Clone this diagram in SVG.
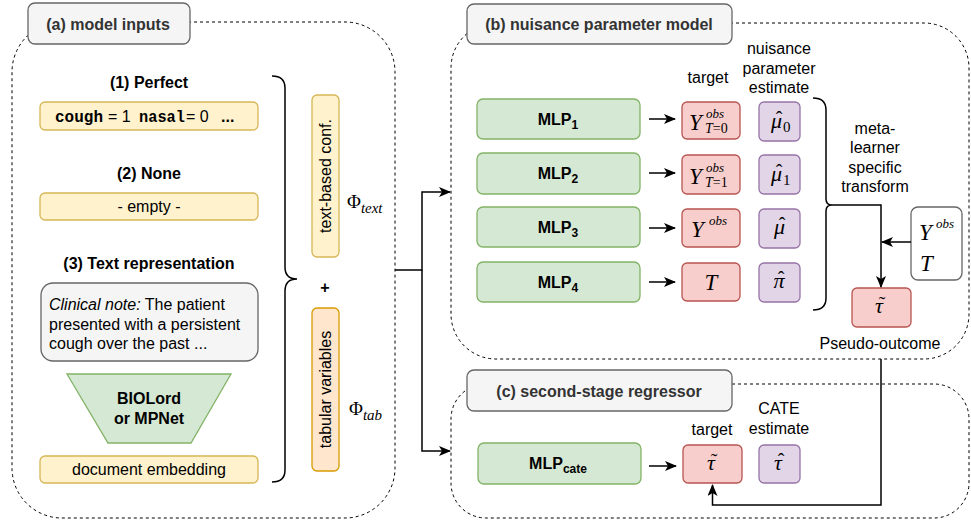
<svg xmlns="http://www.w3.org/2000/svg" width="971" height="520" viewBox="0 0 971 520">
<defs>
<marker id="arr" markerWidth="12" markerHeight="10" refX="11" refY="5" orient="auto" markerUnits="userSpaceOnUse">
<path d="M0,0 L12,5 L0,10 L3,5 Z" fill="#000"/>
</marker>
<style>
.panel{fill:none;stroke:#000;stroke-width:1;stroke-dasharray:3 3}
.title{fill:#f5f5f5;stroke:#666;stroke-width:1.3}
.tt{font-family:"Liberation Sans",Arial,sans-serif;font-weight:bold;font-size:16px;fill:#333;text-anchor:middle}
.t{font-family:"Liberation Sans",Arial,sans-serif;font-size:16px;fill:#000;text-anchor:middle}
.tl{font-family:"Liberation Sans",Arial,sans-serif;font-size:16px;fill:#000}
.b{font-weight:bold}
.mono{font-family:"Liberation Mono","Courier New",monospace;font-weight:bold}
.yel{fill:#fff2cc;stroke:#d6b656;stroke-width:1.3}
.org{fill:#ffe6cc;stroke:#d79b00;stroke-width:1.3}
.grn{fill:#d5e8d4;stroke:#82b366;stroke-width:1.3}
.red{fill:#f8cecc;stroke:#b85450;stroke-width:1.3}
.pur{fill:#e1d5e7;stroke:#9673a6;stroke-width:1.3}
.gry{fill:#f5f5f5;stroke:#666;stroke-width:1.3}
.wht{fill:#fff;stroke:#666;stroke-width:1.3}
.m{font-family:"Liberation Serif","DejaVu Serif",serif;font-style:italic;fill:#000}
.mu{font-family:"Liberation Serif","DejaVu Serif",serif;font-style:normal;fill:#000}
.acc{font-style:normal;font-size:20px;text-anchor:middle}
.ln{fill:none;stroke:#000;stroke-width:1.5}
.br{fill:none;stroke:#000;stroke-width:1.5}
</style>
</defs>
<rect width="971" height="520" fill="#fff"/>

<g id="panels">
<rect class="panel" x="12" y="22" width="383" height="496" rx="50"/>
<rect class="panel" x="451" y="23" width="518" height="336" rx="45"/>
<rect class="panel" x="451" y="384" width="518" height="134" rx="35"/>
</g>

<g id="title-a"><rect class="title" x="28" y="3" width="162" height="41" rx="7"/><text class="tt" x="108" y="30">(a) model inputs</text></g>
<g id="title-b"><rect class="title" x="467" y="4" width="265" height="40" rx="7"/><text class="tt" x="599" y="30">(b) nuisance parameter model</text></g>
<g id="title-c"><rect class="title" x="467" y="370" width="265" height="41" rx="7"/><text class="tt" x="599" y="397">(c) second-stage regressor</text></g>

<g id="perfect">
<text class="t b" x="149" y="88">(1) Perfect</text>
<rect class="yel" x="40" y="102" width="218" height="28" rx="5"/>
<text class="tl" y="122"><tspan class="mono" font-size="16" x="55">cough</tspan><tspan x="108">= 1</tspan><tspan class="mono" font-size="16" x="139" textLength="46" lengthAdjust="spacingAndGlyphs">nasal</tspan><tspan x="186">= 0</tspan><tspan class="b" x="221">...</tspan></text>
</g>
<g id="none">
<text class="t b" x="149" y="179">(2) None</text>
<rect class="yel" x="40" y="193" width="218" height="27" rx="5"/>
<text class="t" x="149" y="212">- empty -</text>
</g>
<g id="textrep">
<text class="t b" x="149" y="269">(3) Text representation</text>
</g>
<g id="note">
<rect class="gry" x="41" y="283" width="217" height="78" rx="12"/>
<text class="tl" x="49" y="310"><tspan font-style="italic">Clinical note:</tspan> The patient</text>
<text class="tl" x="49" y="329.5">presented with a persistent</text>
<text class="tl" x="49" y="349">cough over the past ...</text>
</g>
<g id="encoder">
<path class="grn" d="M67,374 L231,374 L191,443 L108,443 Z"/>
<text class="t b" x="149" y="404">BIOLord</text>
<text class="t b" x="149" y="424">or MPNet</text>
</g>
<g id="docemb">
<rect class="yel" x="40" y="456" width="218" height="27" rx="5"/>
<text class="t" x="149" y="475">document embedding</text>
</g>
<g id="brace-a">
<path class="br" d="M272,76 Q285,76 285,88 L285,267 Q285,279 297,279 Q285,279 285,291 L285,470 Q285,482 272,482"/>
</g>
<g id="textconf">
<rect class="yel" x="312" y="95" width="27" height="162" rx="5"/>
<text class="t" transform="translate(331,176) rotate(-90)">text-based conf.</text>
</g>
<g id="plus"><text class="t b" x="325" y="293">+</text></g>
<g id="tabular">
<rect class="org" x="312" y="308" width="27" height="163" rx="5"/>
<text class="t" transform="translate(331,389.5) rotate(-90)">tabular variables</text>
</g>
<g id="phi-text"><text class="mu" font-size="19" x="347" y="208">Φ<tspan class="m" font-size="15" dy="5">text</tspan></text></g>
<g id="phi-tab"><text class="mu" font-size="19" x="349" y="415">Φ<tspan class="m" font-size="15" dy="5">tab</tspan></text></g>

<g id="labels-b">
<text class="t" x="708" y="83">target</text>
<text class="t" x="779" y="54">nuisance</text>
<text class="t" x="779" y="73.5">parameter</text>
<text class="t" x="779" y="93">estimate</text>
<text class="t" x="875" y="134">meta-</text>
<text class="t" x="875" y="153">learner</text>
<text class="t" x="875" y="173">specific</text>
<text class="t" x="875" y="192">transform</text>
<text class="t" x="880" y="349">Pseudo-outcome</text>
</g>

<g id="mlp1"><rect class="grn" x="477" y="99" width="163" height="40" rx="6"/><text class="t b" x="558" y="125">MLP<tspan font-size="12" dy="4">1</tspan></text></g>
<g id="mlp2"><rect class="grn" x="477" y="153" width="163" height="41" rx="6"/><text class="t b" x="558" y="179">MLP<tspan font-size="12" dy="4">2</tspan></text></g>
<g id="mlp3"><rect class="grn" x="477" y="207" width="163" height="40" rx="6"/><text class="t b" x="558" y="233">MLP<tspan font-size="12" dy="4">3</tspan></text></g>
<g id="mlp4"><rect class="grn" x="477" y="262" width="163" height="40" rx="6"/><text class="t b" x="558" y="288">MLP<tspan font-size="12" dy="4">4</tspan></text></g>

<g id="target1"><rect class="red" x="682" y="102" width="58" height="37" rx="5"/>
<text class="m" font-size="23" x="689" y="130">Y<tspan font-size="13" x="706" y="118">obs</tspan><tspan font-size="14" x="705" y="133">T</tspan><tspan class="mu" font-size="14">=0</tspan></text></g>
<g id="target2"><rect class="red" x="682" y="155" width="58" height="39" rx="5"/>
<text class="m" font-size="23" x="689" y="184">Y<tspan font-size="13" x="706" y="172">obs</tspan><tspan font-size="14" x="705" y="187">T</tspan><tspan class="mu" font-size="14">=1</tspan></text></g>
<g id="target3"><rect class="red" x="682" y="209" width="58" height="38" rx="5"/>
<text class="m" font-size="23" x="691" y="237">Y<tspan font-size="13" x="709" y="225">obs</tspan></text></g>
<g id="target4"><rect class="red" x="682" y="263" width="58" height="38" rx="5"/>
<text class="m" font-size="23" x="711" y="290" text-anchor="middle">T</text></g>

<g id="est1"><rect class="pur" x="759" y="102" width="41" height="39" rx="5"/><text class="m" font-size="22" x="771" y="128">μ<tspan class="acc" x="779" y="126">ˆ</tspan><tspan class="mu" font-size="15" x="783" y="132">0</tspan></text></g>
<g id="est2"><rect class="pur" x="759" y="155" width="41" height="39" rx="5"/><text class="m" font-size="22" x="771" y="181">μ<tspan class="acc" x="779" y="179">ˆ</tspan><tspan class="mu" font-size="15" x="783" y="185">1</tspan></text></g>
<g id="est3"><rect class="pur" x="759" y="209" width="41" height="39" rx="5"/><text class="m" font-size="22" x="774" y="234">μ<tspan class="acc" x="782" y="232">ˆ</tspan></text></g>
<g id="est4"><rect class="pur" x="759" y="263" width="41" height="39" rx="5"/><text class="m" font-size="22" x="773.5" y="288">π<tspan class="acc" x="781" y="286">ˆ</tspan></text></g>

<g id="brace-b"><path class="br" d="M813,98 Q826,98 826,110 L826,199 Q826,205 832,205 Q826,205 826,211 L826,298 Q826,310 813,310"/></g>

<g id="yobs-t"><rect class="wht" x="911" y="207" width="51" height="73" rx="7"/>
<text class="m" font-size="23" x="919" y="240">Y<tspan font-size="13" x="936" y="228">obs</tspan></text>
<text class="m" font-size="23" x="920" y="271">T</text></g>

<g id="pseudo"><rect class="red" x="852" y="288" width="59" height="39" rx="5"/><text class="m" font-size="22" x="875" y="313">τ<tspan class="acc" x="882" y="311">˜</tspan></text></g>

<g id="labels-c">
<text class="t" x="779" y="414">CATE</text>
<text class="t" x="779" y="434">estimate</text>
<text class="t" x="712" y="435">target</text>
</g>
<g id="mlpcate"><rect class="grn" x="478" y="443" width="163" height="41" rx="6"/><text class="t b" x="558" y="469">MLP<tspan font-size="12" dy="4">cate</tspan></text></g>
<g id="target-c"><rect class="red" x="683" y="445" width="59" height="38" rx="5"/><text class="m" font-size="22" x="707" y="470">τ<tspan class="acc" x="714" y="468">˜</tspan></text></g>
<g id="est-c"><rect class="pur" x="759" y="445" width="41" height="38" rx="5"/><text class="m" font-size="22" x="774" y="470">τ<tspan class="acc" x="781" y="468">ˆ</tspan></text></g>

<g id="connectors">
<path class="ln" d="M395,270 L422,270 L422,192 L450,192" marker-end="url(#arr)"/>
<path class="ln" d="M422,270 L422,451 L450,451" marker-end="url(#arr)"/>
<path class="ln" d="M649,119 L675,119" marker-end="url(#arr)"/>
<path class="ln" d="M649,173 L675,173" marker-end="url(#arr)"/>
<path class="ln" d="M649,228 L675,228" marker-end="url(#arr)"/>
<path class="ln" d="M649,282 L675,282" marker-end="url(#arr)"/>
<path class="ln" d="M649,466 L676,466" marker-end="url(#arr)"/>
<path class="ln" d="M832,205 L881,205 L881,287" marker-end="url(#arr)"/>
<path class="ln" d="M911,242 L882,242" marker-end="url(#arr)"/>
<path class="ln" d="M881,359 L881,505 L712.5,505 L712.5,485" marker-end="url(#arr)"/>
</g>
</svg>
